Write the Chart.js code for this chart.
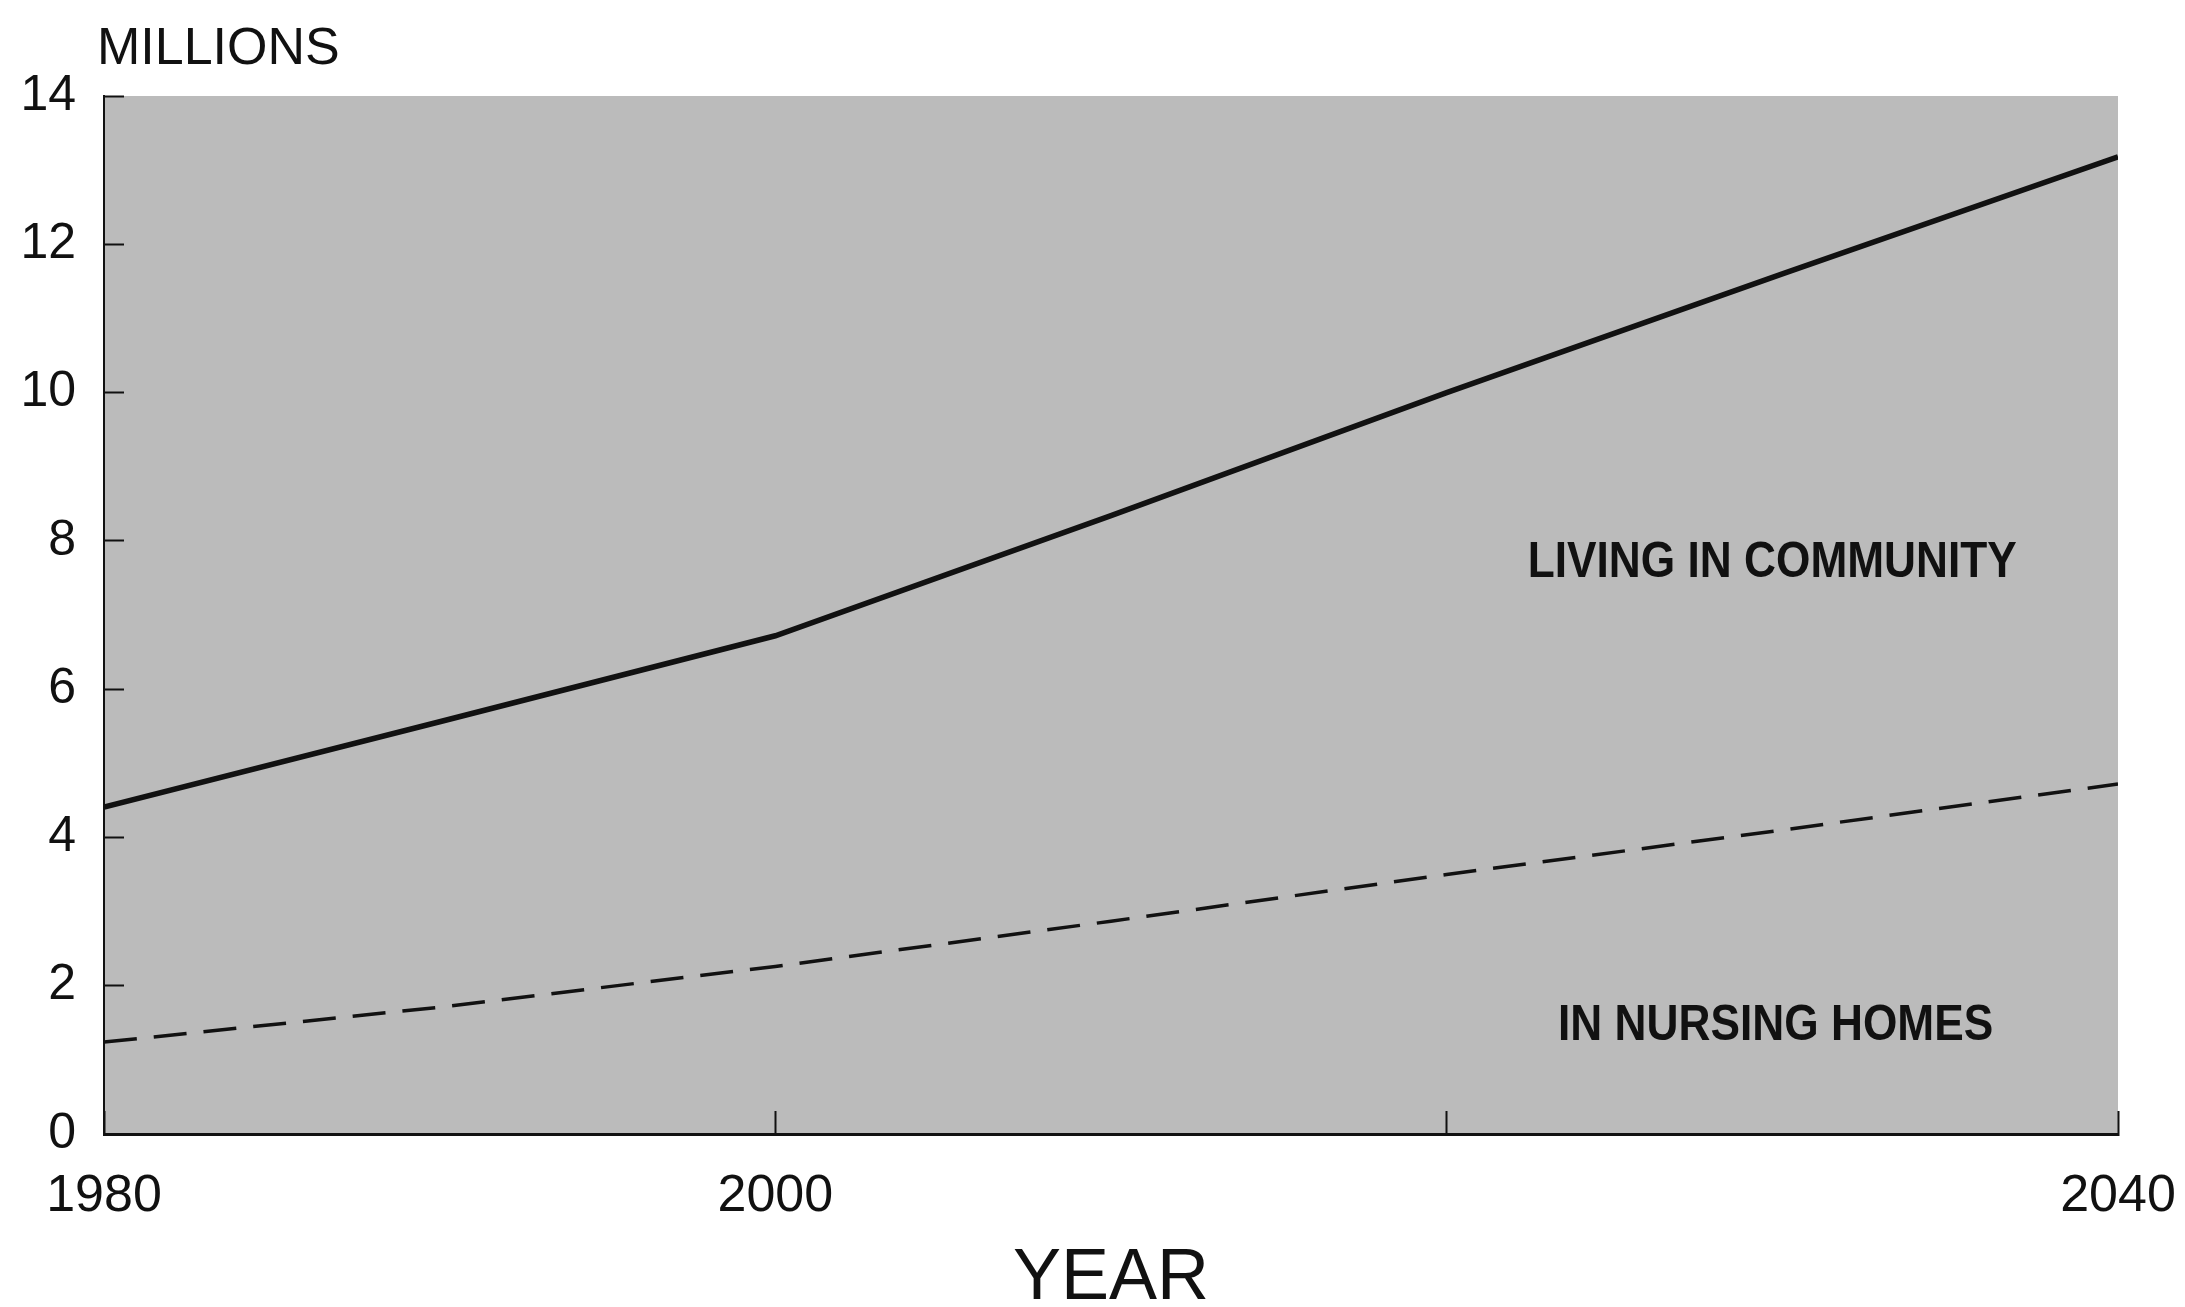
<!DOCTYPE html>
<html>
<head>
<meta charset="utf-8">
<title>Elderly population: community vs nursing homes</title>
<script src="https://cdn.jsdelivr.net/npm/chart.js@4/dist/chart.umd.min.js"></script>
<style>
  html, body { margin: 0; padding: 0; background: #ffffff; }
  canvas { display: block; }
</style>
</head>
<body>
<canvas id="chart" width="2185" height="1307" style="width:2185px;height:1307px"></canvas>
<script>
// Years on the horizontal axis
const years = [1980, 1990, 2000, 2010, 2020, 2030, 2040];
// Millions of people living in the community
const community = [4.41, 5.56, 6.72, 8.34, 10.0, 11.6, 13.18];
// Millions of people in nursing homes
const nursingHomes = [1.24, 1.71, 2.26, 2.87, 3.5, 4.1, 4.72];
// Tick labels shown on the year axis (2020 keeps its tick mark but has no label)
const yearTickLabels = { 1980: '1980', 2000: '2000', 2040: '2040' };
// In-plot series captions, anchored in data units
const captions = [
  { text: 'LIVING IN COMMUNITY', year: 2029.7, value: 7.7 },
  { text: 'IN NURSING HOMES', year: 2029.8, value: 1.45 }
];

const INK = '#111111';
const FONT = '"Liberation Sans", Arial, Helvetica, sans-serif';

const toPoints = (xs, ys) => xs.map((x, i) => ({ x, y: ys[i] }));

// Grey plot panel behind the lines
const panelPlugin = {
  id: 'panel',
  beforeDraw(chart) {
    const { ctx, chartArea: a } = chart;
    ctx.save();
    ctx.fillStyle = '#bbbbbb';
    ctx.fillRect(a.left, a.top, a.right - a.left, a.bottom - a.top);
    ctx.restore();
  }
};

// Unit heading and series captions (captions set in a narrowed bold face)
const textPlugin = {
  id: 'texts',
  afterDraw(chart) {
    const { ctx, scales } = chart;
    ctx.save();
    ctx.fillStyle = INK;
    ctx.textBaseline = 'middle';
    ctx.textAlign = 'left';
    ctx.font = `52px ${FONT}`;
    ctx.fillText('MILLIONS', 97, 50);

    ctx.font = `bold 50px ${FONT}`;
    ctx.textAlign = 'center';
    const squeeze = 0.885;
    captions.forEach(c => {
      const px = scales.x.getPixelForValue(c.year);
      const py = scales.y.getPixelForValue(c.value);
      ctx.save();
      ctx.translate(px, py);
      ctx.scale(squeeze, 1);
      ctx.fillText(c.text, 0, 0);
      ctx.restore();
    });
    ctx.restore();
  }
};

new Chart(document.getElementById('chart'), {
  type: 'line',
  data: {
    datasets: [
      {
        label: 'Living in community',
        data: toPoints(years, community),
        borderColor: INK,
        borderWidth: 5.5,
        pointRadius: 0,
        tension: 0,
        fill: false
      },
      {
        label: 'In nursing homes',
        data: toPoints(years, nursingHomes),
        borderColor: INK,
        borderWidth: 3.5,
        borderDash: [33, 17],
        pointRadius: 0,
        tension: 0,
        fill: false
      }
    ]
  },
  options: {
    responsive: false,
    animation: false,
    devicePixelRatio: 1,
    layout: { padding: { top: 96, right: 67, bottom: 0, left: 0 } },
    plugins: {
      legend: { display: false },
      tooltip: { enabled: false }
    },
    scales: {
      x: {
        type: 'linear',
        position: 'bottom',
        min: 1980,
        max: 2040,
        afterFit(scale) {
          scale.height = 173;
          scale.paddingLeft = 0;
          scale.paddingRight = 0;
        },
        afterBuildTicks(scale) {
          scale.ticks = [1980, 2000, 2020, 2040].map(v => ({ value: v }));
        },
        ticks: {
          autoSkip: false,
          maxRotation: 0,
          padding: 54,
          color: INK,
          font: { family: FONT, size: 52 },
          callback: v => yearTickLabels[v] || ''
        },
        grid: {
          drawOnChartArea: false,
          drawTicks: true,
          tickLength: -23,
          tickWidth: 2,
          tickColor: INK
        },
        border: { display: true, color: INK, width: 3 },
        title: {
          display: true,
          text: 'YEAR',
          color: INK,
          font: { family: FONT, size: 72, lineHeight: 1 },
          padding: { top: 0, bottom: -8 }
        }
      },
      y: {
        type: 'linear',
        position: 'left',
        min: 0,
        max: 14,
        afterFit(scale) { scale.width = 104; },
        ticks: {
          stepSize: 2,
          padding: 48,
          color: INK,
          font: { family: FONT, size: 50 }
        },
        grid: {
          drawOnChartArea: false,
          drawTicks: true,
          tickLength: -20,
          tickWidth: 2,
          tickColor: INK
        },
        border: { display: true, color: INK, width: 2 }
      }
    }
  },
  plugins: [panelPlugin, textPlugin]
});
</script>
</body>
</html>
